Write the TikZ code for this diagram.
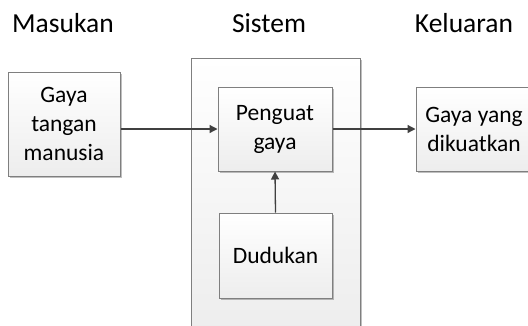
\documentclass[tikz,border=0pt]{standalone}
\usepackage{fontspec}
\setmainfont{Carlito}
\usetikzlibrary{arrows.meta,shadows}
\definecolor{edgegray}{HTML}{7F7F7F}
\definecolor{arrowgray}{HTML}{404040}
\definecolor{fillbot}{HTML}{EDEDED}
\tikzset{
  blk/.style={draw=edgegray, line width=1pt, top color=white, bottom color=fillbot,
    drop shadow={shadow xshift=1.5pt, shadow yshift=-1.5pt, fill=black, opacity=0.25},
    align=center, inner sep=0pt, font=\fontsize{23.5}{29}\selectfont},
  ttl/.style={anchor=base, inner sep=0pt, font=\fontsize{27.5}{32}\selectfont},
  flow/.style={draw=arrowgray, line width=1.3pt, -{Triangle[length=8pt,width=8pt]}}
}
\begin{document}
\begin{tikzpicture}[x=1pt,y=-1pt]
\useasboundingbox (0,0) rectangle (528,325);
\clip (0,0) rectangle (528,325);
\node[ttl] (tin) at (63,32) {Masukan};
\node[ttl] (tsys) at (269,32) {Sistem};
\node[ttl] (tout) at (464,32) {Keluaran};
\node[blk, minimum width=169pt, minimum height=274pt] (sys) at (275.5,195) {};
\node[blk, minimum width=112pt, minimum height=104pt] (in) at (64,124) {Gaya\\tangan\\manusia};
\node[blk, minimum width=114pt, minimum height=84pt] (pen) at (275,129) {Penguat\\gaya};
\node[blk, minimum width=113pt, minimum height=85pt] (dud) at (275.5,255.5) {Dudukan};
\node[blk, minimum width=116pt, minimum height=84pt] (out) at (474,129) {Gaya yang\\dikuatkan};
\draw[flow] (in.east |- pen.west) -- (pen.west);
\draw[flow] (pen.east) -- (out.west);
\draw[flow] (dud.north) -- (pen.south);
\end{tikzpicture}
\end{document}
